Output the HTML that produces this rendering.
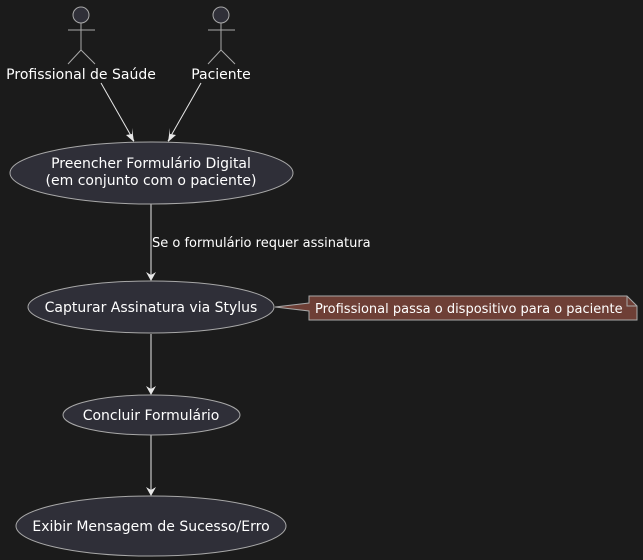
<!DOCTYPE html>
<html><head><meta charset="utf-8"><style>
html,body{margin:0;padding:0;background:#1b1b1b;}
svg{display:block;}
text{font-family:"DejaVu Sans","Liberation Sans",sans-serif;fill:#ffffff;}
</style></head><body>
<svg width="643" height="560" viewBox="0 0 643 560" xmlns="http://www.w3.org/2000/svg">
<rect width="643" height="560" fill="#1b1b1b"/>
<g stroke="#a8a8a8" stroke-width="1" fill="none">
<circle cx="81" cy="15" r="8" fill="#2f2f38"/>
<line x1="81" y1="23" x2="81" y2="50"/><line x1="68" y1="30" x2="95" y2="30"/>
<polyline points="68,64 81,50 95,64"/>
<circle cx="221" cy="15" r="8" fill="#2f2f38"/>
<line x1="221" y1="23" x2="221" y2="50"/><line x1="208" y1="30" x2="235" y2="30"/>
<polyline points="208,64 221,50 235,64"/>
</g>
<text x="81" y="79" font-size="14" text-anchor="middle">Profissional de Saúde</text>
<text x="221" y="79" font-size="14" text-anchor="middle">Paciente</text>
<g stroke="#e8e8e8" stroke-width="1" fill="none">
<line x1="101" y1="83" x2="134" y2="141"/>
<line x1="201" y1="83" x2="168" y2="141"/>
<line x1="151" y1="204" x2="151" y2="280"/>
<line x1="151" y1="334" x2="151" y2="394"/>
<line x1="151" y1="435" x2="151" y2="495"/>
</g>
<g fill="#e8e8e8">
<path d="M134,142 L126,135 L132,134 L132,128 Z"/>
<path d="M168,142 L170,128 L170,134 L176,135 Z"/>
<path d="M151,281 L146,272 L151,275 L156,272 Z"/>
<path d="M151,395 L146,386 L151,389 L156,386 Z"/>
<path d="M151,496 L146,487 L151,490 L156,487 Z"/>
</g>
<g fill="#2f2f38" stroke="#a8a8a8" stroke-width="1">
<ellipse cx="151.5" cy="173" rx="141.5" ry="31"/>
<ellipse cx="151" cy="307" rx="123" ry="26"/>
<ellipse cx="151.5" cy="415" rx="88.5" ry="20"/>
<ellipse cx="151" cy="526" rx="135" ry="30"/>
</g>
<text x="151" y="168" font-size="14" text-anchor="middle">Preencher Formulário Digital</text>
<text x="151" y="185" font-size="14" text-anchor="middle">(em conjunto com o paciente)</text>
<text x="152" y="247" font-size="13">Se o formulário requer assinatura</text>
<text x="151" y="312" font-size="14" text-anchor="middle">Capturar Assinatura via Stylus</text>
<text x="151" y="420" font-size="14" text-anchor="middle">Concluir Formulário</text>
<text x="151" y="531" font-size="14" text-anchor="middle">Exibir Mensagem de Sucesso/Erro</text>
<path d="M309,296 L627,296 L637,306 L637,320 L309,320 L309,311 L275,307 L309,303 Z" fill="#6e3f36" stroke="#a8a8a8" stroke-width="1"/>
<path d="M627,296 L627,306 L637,306" fill="none" stroke="#a8a8a8" stroke-width="1"/>
<text x="315" y="313" font-size="13">Profissional passa o dispositivo para o paciente</text>
</svg>
</body></html>
